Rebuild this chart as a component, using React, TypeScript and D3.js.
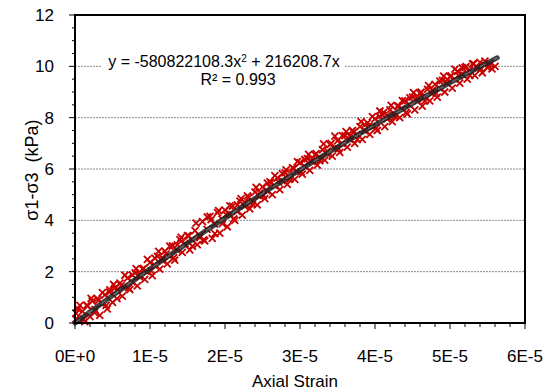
import React from "react";
import * as d3 from "d3";

// strain in units of 1e-6, stress in kPa
const pointsA: [number, number][] = [
  [0.1, 0.15], [0.4, 0.55], [0.7, 0.1], [1.0, 0.45], [1.3, 0.05], [1.6, 0.7],
  [2.0, 0.25], [2.3, 0.85], [2.6, 0.4], [3.0, 0.95], [3.3, 0.3], [3.6, 0.75],
  [4.0, 1.1], [4.3, 0.55], [4.6, 1.2], [5.0, 0.8], [5.3, 1.35], [5.6, 0.95],
  [6.0, 1.55], [6.3, 1.05], [6.6, 1.4], [7.0, 1.75], [7.3, 1.3], [7.6, 1.6],
  [8.0, 1.95], [8.3, 1.45], [8.6, 1.8], [9.0, 2.1], [9.3, 1.7], [9.6, 2.0],
  [10.0, 2.35], [10.3, 1.85], [10.6, 2.25], [11.0, 2.6], [11.3, 2.1], [11.6, 2.45],
  [12.0, 2.8], [12.3, 2.3], [12.6, 2.6], [13.0, 3.0], [13.3, 2.45], [13.6, 2.85],
  [14.0, 3.25], [14.3, 2.75], [14.6, 3.05], [15.0, 3.4], [15.3, 2.85], [15.6, 3.25],
  [16.0, 3.6], [16.3, 3.05], [16.6, 3.4], [17.0, 3.95], [17.3, 3.2], [17.6, 3.65],
  [18.0, 4.15], [18.3, 3.3], [18.6, 3.85], [19.0, 4.3], [19.3, 3.5], [19.6, 4.05],
  [20.0, 4.4], [20.3, 3.75], [20.6, 4.25], [21.0, 4.55], [21.3, 4.0], [21.6, 4.35],
  [22.0, 4.75], [22.3, 4.2], [22.6, 4.55], [23.0, 4.95], [23.3, 4.45], [23.6, 4.75],
  [24.0, 5.1], [24.3, 4.6], [24.6, 4.95], [25.0, 5.3], [25.3, 4.85], [25.6, 5.15],
  [26.0, 5.5], [26.3, 5.0], [26.6, 5.35], [27.0, 5.65], [27.3, 5.2], [27.6, 5.55],
  [28.0, 5.85], [28.3, 5.4], [28.6, 5.7], [29.0, 6.05], [29.3, 5.6], [29.6, 5.9],
  [30.0, 6.25], [30.3, 5.8], [30.6, 6.1], [31.0, 6.4], [31.3, 5.95], [31.6, 6.3],
  [32.0, 6.55], [32.3, 6.15], [32.6, 6.45], [33.0, 6.75], [33.3, 6.35], [33.6, 6.6],
  [34.0, 6.95], [34.3, 6.5], [34.6, 6.8], [35.0, 7.1], [35.3, 6.65], [35.6, 7.0],
  [36.0, 7.3], [36.3, 6.85], [36.6, 7.15], [37.0, 7.5], [37.3, 7.0], [37.6, 7.35],
  [38.0, 7.65], [38.3, 7.15], [38.6, 7.5], [39.0, 7.8], [39.3, 7.35], [39.6, 7.65],
  [40.0, 7.95], [40.3, 7.5], [40.6, 8.05], [41.0, 8.1], [41.3, 7.65], [41.6, 7.95],
  [42.0, 8.3], [42.3, 7.85], [42.6, 8.15], [43.0, 8.45], [43.3, 8.0], [43.6, 8.35],
  [44.0, 8.65], [44.3, 8.15], [44.6, 8.5], [45.0, 8.8], [45.3, 8.3], [45.6, 8.65],
  [46.0, 8.95], [46.3, 8.45], [46.6, 8.8], [47.0, 9.1], [47.3, 8.65], [47.6, 8.95],
  [48.0, 9.3], [48.3, 8.8], [48.6, 9.15], [49.0, 9.45], [49.3, 9.0], [49.6, 9.35],
  [50.0, 9.6], [50.3, 9.15], [50.6, 9.5], [51.0, 9.8], [51.3, 9.35], [51.6, 9.7],
  [52.0, 9.95], [52.3, 9.5], [52.6, 9.85], [53.0, 10.1], [53.3, 9.65], [53.6, 9.95],
  [54.0, 10.15], [54.3, 9.75], [54.6, 10.05], [55.0, 9.95], [55.3, 10.1], [55.6, 9.9],
  [56.0, 10.0],
];

const pointsB: [number, number][] = [
  [0.15, 0.38], [0.65, 0.69], [1.15, 0.15], [1.65, 0.66], [2.15, 0.96], [2.65, 0.52],
  [3.15, 0.88], [3.65, 1.18], [4.15, 0.69], [4.65, 1.29], [5.15, 1.5], [5.65, 1.3],
  [6.15, 1.46], [6.65, 1.86], [7.15, 1.37], [7.65, 1.87], [8.15, 2.12], [8.65, 1.88],
  [9.15, 2.13], [9.65, 2.48], [10.15, 2.03], [10.65, 2.53], [11.15, 2.79], [11.65, 2.54],
  [12.15, 2.69], [12.65, 2.99], [13.15, 2.54], [13.65, 3.04], [14.15, 3.34], [14.65, 3.09],
  [15.15, 3.39], [15.65, 2.99], [16.15, 3.89], [16.65, 3.33], [17.15, 3.24], [17.65, 4.13],
  [18.15, 4.03], [18.65, 3.48], [19.15, 4.38], [19.65, 3.87], [20.15, 4.22], [20.65, 4.56],
  [21.15, 4.06], [21.65, 4.6], [22.15, 4.85], [22.65, 4.69], [23.15, 4.89], [23.65, 4.63],
  [24.15, 5.28], [24.65, 5.07], [25.15, 4.97], [25.65, 5.45], [26.15, 5.46], [26.65, 5.74],
  [27.15, 5.49], [27.65, 5.82], [28.15, 5.97], [28.65, 5.61], [29.15, 6.01], [29.65, 6.29],
  [30.15, 5.89], [30.65, 6.37], [31.15, 6.57], [31.65, 6.4], [32.15, 6.6], [32.65, 6.33],
  [33.15, 6.98], [33.65, 6.7], [34.15, 7.0], [34.65, 7.28], [35.15, 6.78], [35.65, 7.3],
  [36.15, 7.46], [36.65, 7.28], [37.15, 7.43], [37.65, 7.15], [38.15, 7.85], [38.65, 7.72],
  [39.15, 7.67], [39.65, 8.04], [40.15, 7.59], [40.65, 8.26], [41.15, 8.21], [41.65, 8.08],
  [42.15, 8.48], [42.65, 8.04], [43.15, 8.45], [43.65, 8.66], [44.15, 8.21], [44.65, 8.77],
  [45.15, 8.98], [45.65, 8.74], [46.15, 8.99], [46.65, 8.65], [47.15, 9.25], [47.65, 9.06],
  [48.15, 8.96], [48.65, 9.42], [49.15, 9.62], [49.65, 9.48], [50.15, 9.63], [50.65, 9.89],
  [51.15, 9.64], [51.65, 9.94], [52.15, 9.99], [52.65, 9.65], [53.15, 10.1], [53.65, 9.95],
  [54.15, 9.9], [54.65, 10.2], [55.15, 10.0],
];

const coefA = -580822108.3;
const coefB = 216208.7;
const trendEnd = 5.63e-5;

const xTicks = [0, 1e-5, 2e-5, 3e-5, 4e-5, 5e-5, 6e-5];
const xTickLabels = ["0E+0", "1E-5", "2E-5", "3E-5", "4E-5", "5E-5", "6E-5"];
const yTicks = [0, 2, 4, 6, 8, 10, 12];

const FONT = "'Liberation Sans', Arial, sans-serif";

export default function App() {
  const W = 547, H = 392;
  const L = 75, R = 525, T = 15, B = 323;
  const x = d3.scaleLinear().domain([0, 6e-5]).range([L, R]);
  const y = d3.scaleLinear().domain([0, 12]).range([B, T]);

  const xMinor = d3.range(0, 6e-5 + 1e-12, 0.2e-5);
  const yMinor = d3.range(0, 12.001, 0.5);

  const trendPts = d3.range(0, 61).map((i) => {
    const xv = (trendEnd * i) / 60;
    return [xv, coefA * xv * xv + coefB * xv] as [number, number];
  });
  const line = d3
    .line<[number, number]>()
    .x((d) => x(d[0]))
    .y((d) => y(d[1]));

  const allPts = [...pointsA, ...pointsB];
  const s = 3.5;
  return (
    <svg width={W} height={H} style={{ position: "absolute", left: 0, top: 0 }}>
      <rect x={0} y={0} width={W} height={H} fill="#fff" />
      {yTicks.slice(1, -1).map((t) => (
        <line key={t} x1={L} x2={R} y1={y(t)} y2={y(t)} stroke="#888" strokeWidth={1} strokeDasharray="2,1" />
      ))}
      {/* markers */}
      <g stroke="#C80000" strokeWidth={1.8} fill="none">
        {allPts.map((p, i) => {
          const cx = x(p[0] * 1e-6), cy = y(p[1]);
          return (
            <path key={i} d={`M${cx - s},${cy - s}L${cx + s},${cy + s}M${cx - s},${cy + s}L${cx + s},${cy - s}`} />
          );
        })}
      </g>
      <path d={line(trendPts) || ""} fill="none" stroke="#222" strokeOpacity={0.85} strokeWidth={5} strokeLinecap="round" />
      <path d={line(trendPts) || ""} fill="none" stroke="#888" strokeOpacity={0.6} strokeWidth={1.5} strokeDasharray="6,10" />
      {/* equation label */}
      <rect x={101} y={50} width={244} height={40} fill="#fff" />
      <text x={224} y={67} textAnchor="middle" fontFamily={FONT} fontSize={16} fill="#000">
        y = -580822108.3x<tspan dy={-5} fontSize={10}>2</tspan><tspan dy={5}> + 216208.7x</tspan>
      </text>
      <text x={238} y={85} textAnchor="middle" fontFamily={FONT} fontSize={16} fill="#000">
        R² = 0.993
      </text>
      {/* frame */}
      <rect x={L} y={T} width={R - L} height={B - T} fill="none" stroke="#000" strokeWidth={2} />
      {/* ticks */}
      {yMinor.map((t, i) => (
        <line key={"ym" + i} x1={L - (i % 4 === 0 ? 6 : 3)} x2={L} y1={y(t)} y2={y(t)} stroke="#000" strokeWidth={1} />
      ))}
      {xMinor.map((t, i) => (
        <line key={"xm" + i} x1={x(t)} x2={x(t)} y1={B} y2={B + (i % 5 === 0 ? 6 : 4)} stroke="#000" strokeWidth={1} />
      ))}
      {yTicks.map((t) => (
        <text key={"yl" + t} x={54} y={y(t)} dy="0.36em" textAnchor="end" fontFamily={FONT} fontSize={17} fill="#000">
          {t}
        </text>
      ))}
      {xTicks.map((t, i) => (
        <text key={"xl" + i} x={x(t)} y={362} textAnchor="middle" fontFamily={FONT} fontSize={17} fill="#000">
          {xTickLabels[i]}
        </text>
      ))}
      <text x={295} y={387} textAnchor="middle" fontFamily={FONT} fontSize={17} fill="#000">
        Axial Strain
      </text>
      <text transform={`translate(38,170) rotate(-90)`} textAnchor="middle" fontFamily={FONT} fontSize={18} fill="#000" style={{ whiteSpace: "pre" }}>
        {"σ1-σ3  (kPa)"}
      </text>
    </svg>
  );
}
